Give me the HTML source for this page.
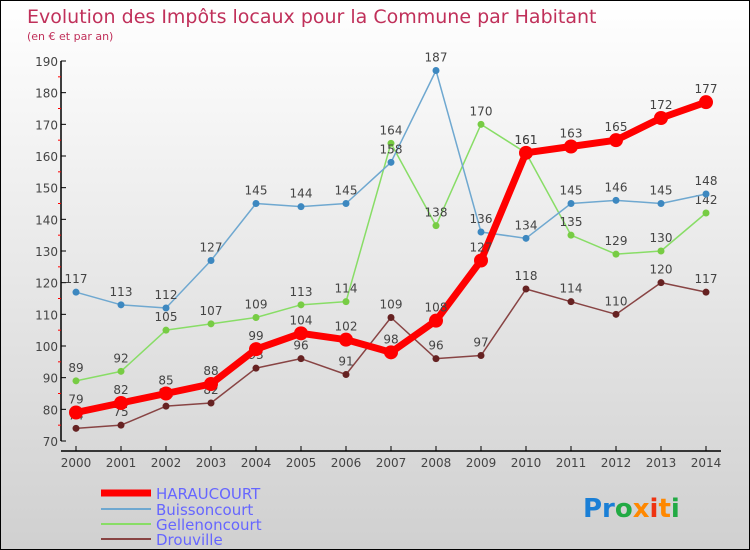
<!DOCTYPE html>
<html><head><meta charset="utf-8"><style>
body{margin:0}
#c{width:748px;height:548px;border:1px solid #000;background:linear-gradient(#fff,#d0d0d0);position:relative;font-family:"DejaVu Sans","Liberation Sans",sans-serif;overflow:hidden}
text{font-family:"DejaVu Sans","Liberation Sans",sans-serif}
</style></head><body>
<div id="c">
<svg id="s" width="748" height="548">
<text x="26" y="22" font-size="19" fill="#c0305a">Evolution des Impôts locaux pour la Commune par Habitant</text>
<text x="26" y="39" font-size="11" fill="#c0305a">(en € et par an)</text>
<g id="plot"></g>
<g>
<line x1="100" y1="492" x2="150" y2="492" stroke="#f00" stroke-width="7"/>
<text x="155" y="498" font-size="15" fill="#6666ff">HARAUCOURT</text>
<line x1="100" y1="508" x2="150" y2="508" stroke="#6fa8d0" stroke-width="2"/>
<text x="155" y="514" font-size="15" fill="#6666ff">Buissoncourt</text>
<line x1="100" y1="523" x2="150" y2="523" stroke="#88dd66" stroke-width="2"/>
<text x="155" y="529" font-size="15" fill="#6666ff">Gellenoncourt</text>
<line x1="100" y1="538" x2="150" y2="538" stroke="#884444" stroke-width="2"/>
<text x="155" y="544" font-size="15" fill="#6666ff">Drouville</text>
</g>
<text x="582" y="516" font-size="26" font-weight="bold"><tspan fill="#1a7fd6">Pr</tspan><tspan fill="#22aa44">o</tspan><tspan fill="#ff8800">x</tspan><tspan fill="#1a7fd6"></tspan><tspan fill="#ee3311">i</tspan><tspan fill="#ff8800">t</tspan><tspan fill="#22aa44">i</tspan></text>
</svg>
</div>
<script>
const years=[2000,2001,2002,2003,2004,2005,2006,2007,2008,2009,2010,2011,2012,2013,2014];
const yTicks=[70,80,90,100,110,120,130,140,150,160,170,180,190];
const haraucourt=[79,82,85,88,99,104,102,98,108,127,161,163,165,172,177];
const buissoncourt=[117,113,112,127,145,144,145,158,187,136,134,145,146,145,148];
const gellenoncourt=[89,92,105,107,109,113,114,164,138,170,161,135,129,130,142];
const drouville=[74,75,81,82,93,96,91,109,96,97,118,114,110,120,117];
const NS="http://www.w3.org/2000/svg";
const g=document.getElementById('plot');
const xS=i=>75+i*45;
const yS=v=>440-(v-70)*380/120;
function el(t,a,name){const e=document.createElementNS(NS,t);for(const k in a)e.setAttribute(k,a[k]);


g.appendChild(e);return e;}
el('line',{x1:60,y1:60,x2:60,y2:440,stroke:'#000','stroke-width':1.5},'y-axis');
el('line',{x1:60,y1:450,x2:720,y2:450,stroke:'#000','stroke-width':1.5},'x-axis');
yTicks.forEach((v,i)=>{
el('line',{x1:60,y1:yS(v),x2:65,y2:yS(v),stroke:'#000'},'y-tick');
if(i<yTicks.length-1)el('line',{x1:57,y1:yS(v+5),x2:60,y2:yS(v+5),stroke:'#f00'},'y-minor-tick');
const t=el('text',{x:57,y:yS(v)+5,'font-size':12,fill:'#444','text-anchor':'end'},'y-tick-label');t.textContent=v;});
years.forEach((y,i)=>{
el('line',{x1:xS(i),y1:445,x2:xS(i),y2:450,stroke:'#000'},'x-tick');
const t=el('text',{x:xS(i),y:466,'font-size':12,fill:'#444','text-anchor':'middle'},'x-tick-label');t.textContent=y;});
function series(d,color,w,r,name,dot){
el('polyline',{points:d.map((v,i)=>xS(i)+','+yS(v)).join(' '),fill:'none',stroke:color,'stroke-width':w,'stroke-linejoin':'round'},name+'-line');
d.forEach((v,i)=>{el('circle',{cx:xS(i),cy:yS(v),r:r,fill:dot},name+'-point');
const t=el('text',{x:xS(i),y:yS(v)-9,'font-size':12,fill:'#444','text-anchor':'middle'},name+'-value-label');t.textContent=v;});}
series(drouville,'#884444',1.5,3.5,'drouville','#662222');
series(gellenoncourt,'#88dd66',1.5,3.5,'gellenoncourt','#77cc44');
series(buissoncourt,'#6fa8d0',1.5,3.5,'buissoncourt','#3d88c0');
series(haraucourt,'#f00',7,7,'haraucourt','#f00');
</script>
</body></html>
